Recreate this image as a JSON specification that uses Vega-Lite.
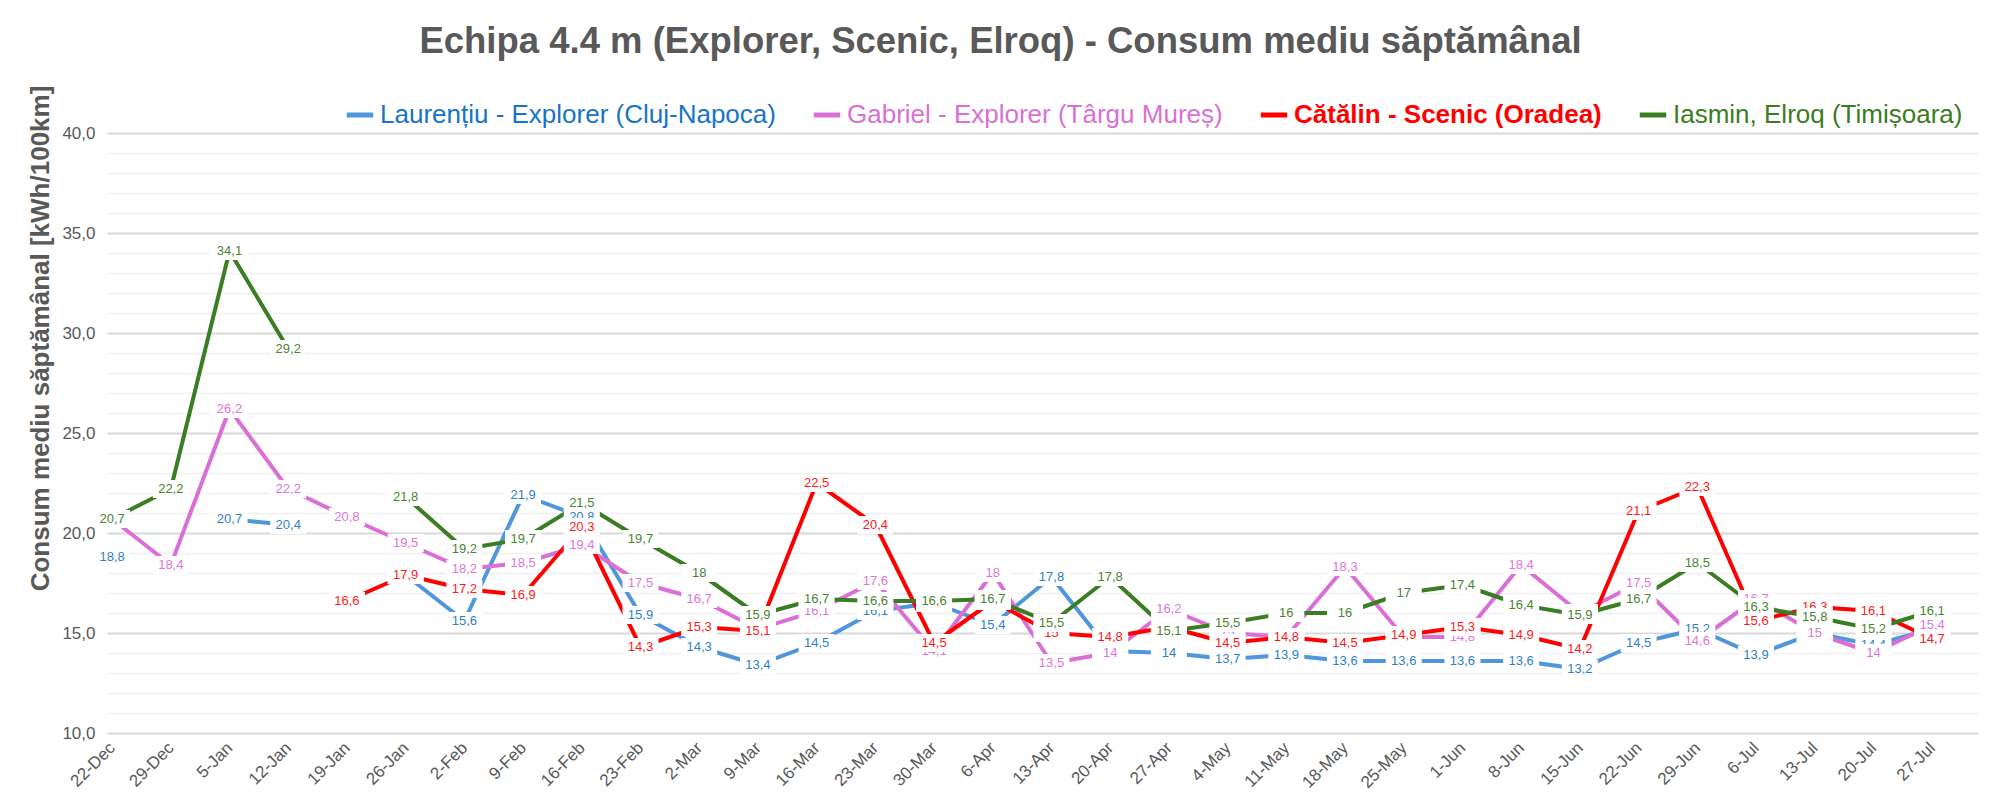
{
  "$schema": "https://vega.github.io/schema/vega-lite/v6.json",
  "width": 1871,
  "height": 600,
  "autosize": {"type": "none"},
  "padding": {"left": 107, "top": 133, "right": 22, "bottom": 71},
  "background": "white",
  "config": {
    "font": "Liberation Sans",
    "view": {"stroke": null},
    "locale": {"number": {"decimal": ",", "thousands": ".", "grouping": [3], "currency": ["", ""]}}
  },
  "title": {
    "text": "Echipa 4.4 m (Explorer, Scenic, Elroq) - Consum mediu săptămânal",
    "fontSize": 36.5, "fontWeight": "bold", "color": "#595959",
    "anchor": "middle", "frame": "group", "dx": -42, "offset": 25
  },
  "data": {"values": [
    {"d": "22-Dec", "L": 18.8, "G": 20.7, "C": null, "I": 20.7},
    {"d": "29-Dec", "L": null, "G": 18.4, "C": null, "I": 22.2},
    {"d": "5-Jan", "L": 20.7, "G": 26.2, "C": null, "I": 34.1},
    {"d": "12-Jan", "L": 20.4, "G": 22.2, "C": null, "I": 29.2},
    {"d": "19-Jan", "L": null, "G": 20.8, "C": 16.6, "I": null},
    {"d": "26-Jan", "L": 17.9, "G": 19.5, "C": 17.9, "I": 21.8},
    {"d": "2-Feb", "L": 15.6, "G": 18.2, "C": 17.2, "I": 19.2},
    {"d": "9-Feb", "L": 21.9, "G": 18.5, "C": 16.9, "I": 19.7},
    {"d": "16-Feb", "L": 20.8, "G": 19.4, "C": 20.3, "I": 21.5},
    {"d": "23-Feb", "L": 15.9, "G": 17.5, "C": 14.3, "I": 19.7},
    {"d": "2-Mar", "L": 14.3, "G": 16.7, "C": 15.3, "I": 18},
    {"d": "9-Mar", "L": 13.4, "G": 15.2, "C": 15.1, "I": 15.9},
    {"d": "16-Mar", "L": 14.5, "G": 16.1, "C": 22.5, "I": 16.7},
    {"d": "23-Mar", "L": 16.1, "G": 17.6, "C": 20.4, "I": 16.6},
    {"d": "30-Mar", "L": 16.5, "G": 14.1, "C": 14.5, "I": 16.6},
    {"d": "6-Apr", "L": 15.4, "G": 18, "C": 16.6, "I": 16.7},
    {"d": "13-Apr", "L": 17.8, "G": 13.5, "C": 15, "I": 15.5},
    {"d": "20-Apr", "L": 14.1, "G": 14, "C": 14.8, "I": 17.8},
    {"d": "27-Apr", "L": 14, "G": 16.2, "C": 15.3, "I": 15.1},
    {"d": "4-May", "L": 13.7, "G": 15, "C": 14.5, "I": 15.5},
    {"d": "11-May", "L": 13.9, "G": 14.8, "C": 14.8, "I": 16},
    {"d": "18-May", "L": 13.6, "G": 18.3, "C": 14.5, "I": 16},
    {"d": "25-May", "L": 13.6, "G": 14.8, "C": 14.9, "I": 17},
    {"d": "1-Jun", "L": 13.6, "G": 14.8, "C": 15.3, "I": 17.4},
    {"d": "8-Jun", "L": 13.6, "G": 18.4, "C": 14.9, "I": 16.4},
    {"d": "15-Jun", "L": 13.2, "G": 16, "C": 14.2, "I": 15.9},
    {"d": "22-Jun", "L": 14.5, "G": 17.5, "C": 21.1, "I": 16.7},
    {"d": "29-Jun", "L": 15.2, "G": 14.6, "C": 22.3, "I": 18.5},
    {"d": "6-Jul", "L": 13.9, "G": 16.7, "C": 15.6, "I": 16.3},
    {"d": "13-Jul", "L": 15, "G": 15, "C": 16.3, "I": 15.8},
    {"d": "20-Jul", "L": 14.4, "G": 14, "C": 16.1, "I": 15.2},
    {"d": "27-Jul", "L": 15.2, "G": 15.4, "C": 14.7, "I": 16.1}
  ]},
  "transform": [{"fold": ["L", "G", "C", "I"], "as": ["k", "v"]}],
  "encoding": {
    "x": {
      "field": "d", "type": "ordinal",
      "sort": ["22-Dec","29-Dec","5-Jan","12-Jan","19-Jan","26-Jan","2-Feb","9-Feb","16-Feb","23-Feb","2-Mar","9-Mar","16-Mar","23-Mar","30-Mar","6-Apr","13-Apr","20-Apr","27-Apr","4-May","11-May","18-May","25-May","1-Jun","8-Jun","15-Jun","22-Jun","29-Jun","6-Jul","13-Jul","20-Jul","27-Jul"],
      "scale": {"type": "point", "padding": 0.434, "align": 0.1},
      "axis": {"title": null, "labelAngle": -45, "labelAlign": "right", "labelBaseline": "middle", "labelFontSize": 17, "labelColor": "#595959", "labelPadding": 12, "ticks": false, "domain": false, "grid": false}
    },
    "y": {
      "field": "v", "type": "quantitative",
      "scale": {"domain": [10, 40], "nice": false, "zero": false},
      "axis": {
        "title": "Consum mediu săptămânal [kWh/100km]",
        "titleFontSize": 26, "titleFontWeight": "bold", "titleColor": "#595959", "titlePadding": 8, "titleY": 205,
        "values": [10,11,12,13,14,15,16,17,18,19,20,21,22,23,24,25,26,27,28,29,30,31,32,33,34,35,36,37,38,39,40],
        "labelExpr": "datum.value % 5 === 0 ? replace(format(datum.value, '.1f'), '.', ',') : ''",
        "labelFontSize": 17, "labelColor": "#595959", "labelPadding": 12,
        "ticks": false, "domain": false,
        "gridColor": {"condition": {"test": "datum.value % 5 === 0", "value": "#D9D9D9"}, "value": "#F0F0F0"},
        "gridWidth": {"condition": {"test": "datum.value % 5 === 0", "value": 2}, "value": 1.5}
      }
    }
  },
  "layer": [
    {
      "mark": {"type": "line", "strokeWidth": 4, "strokeJoin": "round", "invalid": "break-paths-filter-domains"},
      "encoding": {
        "color": {
          "field": "k", "type": "nominal",
          "scale": {"domain": ["L", "G", "C", "I"], "range": ["#4F96DC", "#DA70D6", "#FF0000", "#3A7D22"]},
          "legend": {
            "orient": "none", "legendX": 237, "legendY": -34, "direction": "horizontal", "columns": 4,
            "title": null, "labelFontSize": 26, "labelLimit": 0, "labelOffset": 4,
            "labelExpr": "datum.label == 'L' ? 'Laurențiu - Explorer (Cluj-Napoca)' : datum.label == 'G' ? 'Gabriel - Explorer (Târgu Mureș)' : datum.label == 'C' ? 'Cătălin - Scenic (Oradea)' : 'Iasmin, Elroq (Timișoara)'",
            "labelColor": {"expr": "datum.value == 'L' ? '#1874C8' : datum.value == 'G' ? '#DA70D6' : datum.value == 'C' ? '#FF0000' : '#3A7D22'"},
            "labelFontWeight": {"expr": "datum.value == 'C' ? 'bold' : 'normal'"},
            "symbolType": "stroke", "symbolSize": 700, "symbolStrokeWidth": 5, "columnPadding": 27
          }
        }
      }
    },
    {"transform": [{"filter": "datum.k == 'L' && datum.v != null"}], "mark": {"type": "point", "shape": "M-2,-1H2V1H-2Z", "filled": true, "fill": "white", "opacity": 1, "strokeWidth": 0, "size": 324}},
    {"transform": [{"filter": "datum.k == 'L' && datum.v != null"}], "mark": {"type": "text", "color": "#2F7FCB", "fontSize": 13, "align": "center", "baseline": "middle"}, "encoding": {"text": {"field": "v", "type": "quantitative", "format": ".3~g"}}},
    {"transform": [{"filter": "datum.k == 'G' && datum.v != null"}], "mark": {"type": "point", "shape": "M-2,-1H2V1H-2Z", "filled": true, "fill": "white", "opacity": 1, "strokeWidth": 0, "size": 324}},
    {"transform": [{"filter": "datum.k == 'G' && datum.v != null"}], "mark": {"type": "text", "color": "#DD77D8", "fontSize": 13, "align": "center", "baseline": "middle"}, "encoding": {"text": {"field": "v", "type": "quantitative", "format": ".3~g"}}},
    {"transform": [{"filter": "datum.k == 'C' && datum.v != null"}], "mark": {"type": "point", "shape": "M-2,-1H2V1H-2Z", "filled": true, "fill": "white", "opacity": 1, "strokeWidth": 0, "size": 324}},
    {"transform": [{"filter": "datum.k == 'C' && datum.v != null"}], "mark": {"type": "text", "color": "#FF1A1A", "fontSize": 13, "align": "center", "baseline": "middle"}, "encoding": {"text": {"field": "v", "type": "quantitative", "format": ".3~g"}}},
    {"transform": [{"filter": "datum.k == 'I' && datum.v != null"}], "mark": {"type": "point", "shape": "M-2,-1H2V1H-2Z", "filled": true, "fill": "white", "opacity": 1, "strokeWidth": 0, "size": 324}},
    {"transform": [{"filter": "datum.k == 'I' && datum.v != null"}], "mark": {"type": "text", "color": "#4A8530", "fontSize": 13, "align": "center", "baseline": "middle"}, "encoding": {"text": {"field": "v", "type": "quantitative", "format": ".3~g"}}}
  ]
}
